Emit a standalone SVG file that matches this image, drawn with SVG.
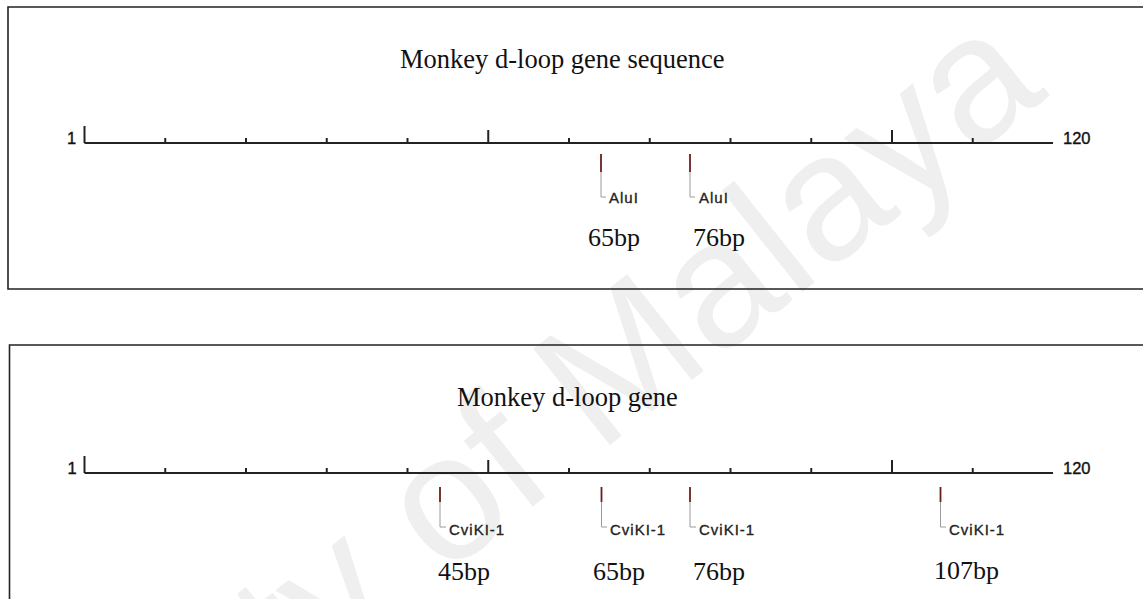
<svg xmlns="http://www.w3.org/2000/svg" width="1143" height="599" viewBox="0 0 1143 599">
<style>
.frame{fill:none;stroke:#222;stroke-width:1.6}
.axis{stroke:#222;stroke-width:2;fill:none}
.tick{stroke:#222;stroke-width:2}
.cut{stroke:#6b1e1e;stroke-width:1.8}
.lead{stroke:#9a9a9a;stroke-width:1;fill:none}
.title{font-family:"Liberation Serif","Times New Roman",serif;font-size:26.5px;fill:#111}
.bp{font-family:"Liberation Serif","Times New Roman",serif;font-size:26px;fill:#111}
.num{font-family:"Liberation Sans",Arial,sans-serif;font-size:16.5px;fill:#111;stroke:#111;stroke-width:0.35}
.enz{font-family:"Liberation Sans",Arial,sans-serif;font-size:15px;letter-spacing:1px;fill:#222;stroke:#222;stroke-width:0.35}
.wm{font-family:"Liberation Sans",Arial,sans-serif;font-size:179px;fill:#efefef}
</style>
<defs>
<g id="ticks">
<line class="tick" x1="84.5" y1="-17" x2="84.5" y2="0"/>
<line class="tick" x1="165.25" y1="-5" x2="165.25" y2="0"/>
<line class="tick" x1="246" y1="-5" x2="246" y2="0"/>
<line class="tick" x1="326.75" y1="-5" x2="326.75" y2="0"/>
<line class="tick" x1="407.5" y1="-5" x2="407.5" y2="0"/>
<line class="tick" x1="488.25" y1="-13" x2="488.25" y2="0"/>
<line class="tick" x1="569" y1="-5" x2="569" y2="0"/>
<line class="tick" x1="649.75" y1="-5" x2="649.75" y2="0"/>
<line class="tick" x1="730.5" y1="-5" x2="730.5" y2="0"/>
<line class="tick" x1="811.25" y1="-5" x2="811.25" y2="0"/>
<line class="tick" x1="892" y1="-13" x2="892" y2="0"/>
<line class="tick" x1="972.75" y1="-5" x2="972.75" y2="0"/>
<line class="axis" x1="84.5" y1="0" x2="1053" y2="0"/>
</g>
</defs>
<rect width="1143" height="599" fill="#ffffff"/>
<text class="wm" x="1050" y="95" text-anchor="end" transform="rotate(-38.5 1050 95)">University of Malaya</text>

<g id="panel-top">
<path class="frame" d="M1143,7 H8 V289 H1143"/>
<text class="title" x="400" y="68">Monkey d-loop gene sequence</text>
<g id="axis-top" transform="translate(0,143)"><use href="#ticks"/></g>
<text class="num" x="67" y="144">1</text>
<text class="num" x="1063" y="144">120</text>
</g>

<g id="connectors">
<line class="cut" x1="601" y1="154" x2="601" y2="172"/>
<path class="lead" d="M601,172 V197 H606"/>
<line class="cut" x1="690" y1="154" x2="690" y2="172"/>
<path class="lead" d="M690,172 V197 H695"/>
<line class="cut" x1="440" y1="487" x2="440" y2="502"/>
<path class="lead" d="M440,502 V527 H446"/>
<line class="cut" x1="601.5" y1="487" x2="601.5" y2="502"/>
<path class="lead" d="M601.5,502 V527 H607"/>
<line class="cut" x1="690" y1="487" x2="690" y2="502"/>
<path class="lead" d="M690,502 V527 H696"/>
<line class="cut" x1="940.5" y1="487" x2="940.5" y2="502"/>
<path class="lead" d="M940.5,502 V527 H946"/>
</g>

<g id="site-top-65">
<text class="enz" x="609" y="203">AluI</text>
<text class="bp" x="588" y="246">65bp</text>
</g>
<g id="site-top-76">
<text class="enz" x="699" y="203">AluI</text>
<text class="bp" x="693" y="246">76bp</text>
</g>

<g id="panel-bottom">
<path class="frame" d="M1143,345 H9.5 V599"/>
<text class="title" x="457" y="406">Monkey d-loop gene</text>
<g id="axis-bottom" transform="translate(0,473)"><use href="#ticks"/></g>
<text class="num" x="67.5" y="474">1</text>
<text class="num" x="1063" y="474">120</text>
</g>

<g id="site-bottom-45">
<text class="enz" x="449" y="535">CviKI-1</text>
<text class="bp" x="438" y="580">45bp</text>
</g>
<g id="site-bottom-65">
<text class="enz" x="610" y="535">CviKI-1</text>
<text class="bp" x="593" y="580">65bp</text>
</g>
<g id="site-bottom-76">
<text class="enz" x="699" y="535">CviKI-1</text>
<text class="bp" x="693" y="580">76bp</text>
</g>
<g id="site-bottom-107">
<text class="enz" x="949" y="535">CviKI-1</text>
<text class="bp" x="934" y="579">107bp</text>
</g>
</svg>
